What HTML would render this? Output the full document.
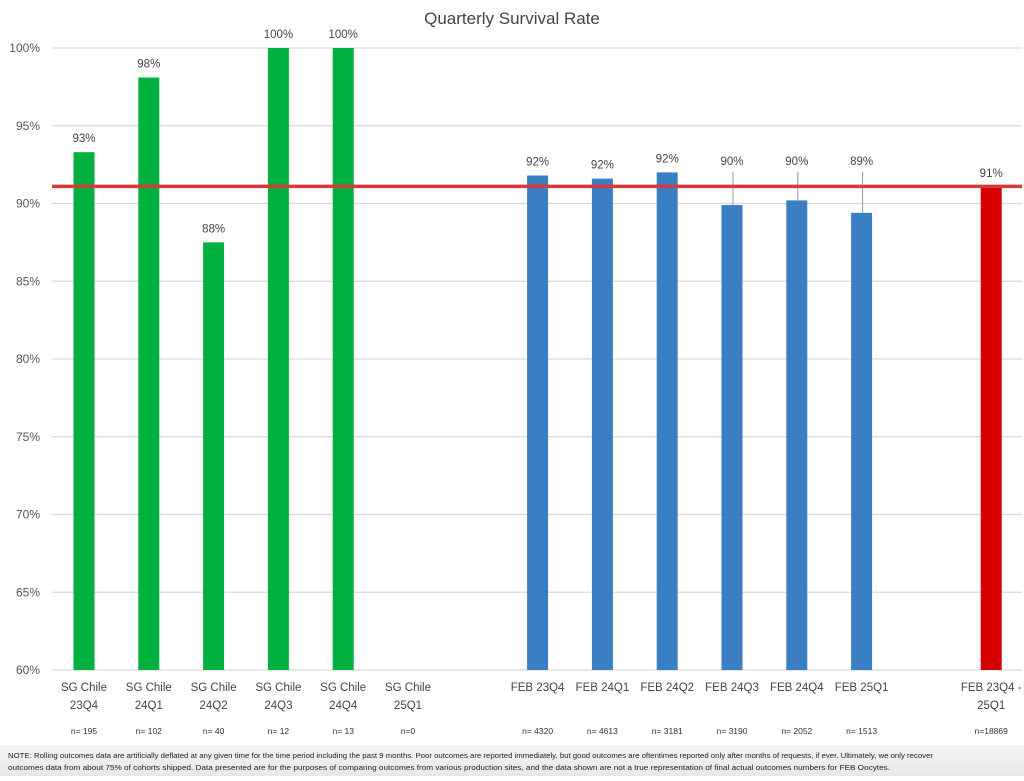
<!DOCTYPE html>
<html><head><meta charset="utf-8"><style>
body{margin:0;background:#fff;font-family:"Liberation Sans",sans-serif}
svg text{font-family:"Liberation Sans",sans-serif}
</style></head><body>
<svg id="chart" width="1024" height="776" xmlns="http://www.w3.org/2000/svg">
<defs><linearGradient id="ng" x1="0" y1="0" x2="0" y2="1"><stop offset="0" stop-color="#f4f4f4"/><stop offset="1" stop-color="#e8e8e8"/></linearGradient></defs>
<rect x="0" y="745" width="1024" height="31" fill="url(#ng)"/>
<text x="512" y="24" text-anchor="middle" font-size="17" fill="#444">Quarterly Survival Rate</text>
<g id="grid"></g><g id="bars"></g><g id="labels"></g>
<text x="8" y="758" font-size="7.4" fill="#222" textLength="925" lengthAdjust="spacingAndGlyphs">NOTE:  Rolling outcomes data are artificially deflated at any given time for the time period including the past 9 months.  Poor outcomes are reported immediately, but good outcomes are oftentimes reported only after months of requests, if ever.  Ultimately, we only recover</text>
<text x="8" y="770" font-size="7.4" fill="#222" textLength="882" lengthAdjust="spacingAndGlyphs">outcomes data from about 75% of cohorts shipped.  Data presented are for the purposes of comparing outcomes from various production sites, and the data shown are not a true representation of final actual outcomes numbers for FEB Oocytes.</text>
</svg>
<script>
const categories=["SG Chile|23Q4","SG Chile|24Q1","SG Chile|24Q2","SG Chile|24Q3","SG Chile|24Q4","SG Chile|25Q1","","FEB 23Q4","FEB 24Q1","FEB 24Q2","FEB 24Q3","FEB 24Q4","FEB 25Q1","","FEB 23Q4 -|25Q1"];
const values=[93.3,98.1,87.5,100,100,null,null,91.8,91.6,92.0,89.9,90.2,89.4,null,91.06];
const valueLabels=["93%","98%","88%","100%","100%","","","92%","92%","92%","90%","90%","89%","","91%"];
const counts=["n= 195","n= 102","n= 40","n= 12","n= 13","n=0","","n= 4320","n= 4613","n= 3181","n= 3190","n= 2052","n= 1513","","n=18869"];
const groups=["sg","sg","sg","sg","sg","sg","","feb","feb","feb","feb","feb","feb","","all"];
const leader=[0,0,0,0,0,0,0,0,0,0,1,1,1,0,0];
const yTicks=[60,65,70,75,80,85,90,95,100];
const average=91.1;
const NS="http://www.w3.org/2000/svg";
const y=v=>670-(v-60)*(622/40);
const x=i=>84+i*64.8;
const colors={sg:"#00b140",feb:"#3a7fc4",all:"#d60000"};
function mk(t,a,p,txt){const e=document.createElementNS(NS,t);for(const k in a)e.setAttribute(k,a[k]);if(txt!==undefined)e.textContent=txt;p.appendChild(e);return e;}
const G=document.getElementById('grid'),B=document.getElementById('bars'),L=document.getElementById('labels');
yTicks.forEach(t=>{
 const ln=mk('line',{x1:52,x2:1022,y1:y(t),y2:y(t),stroke:"#d9d9d9","stroke-width":1.2},G);
 
 
 const tx=mk('text',{x:40,y:y(t)+4,"text-anchor":"end","font-size":12,fill:"#555"},G,t+"%");
 
 
});
categories.forEach((c,i)=>{
 if(!c)return;
 const v=values[i];
 if(v!==null){
  const r=mk('rect',{x:x(i)-10.5,y:y(v),width:21,height:670-y(v),fill:colors[groups[i]]},B);
  
  
  const ly=leader[i]?165:y(v)-10;
  if(leader[i]){const l=mk('line',{x1:x(i)+1,x2:x(i)+1,y1:ly+7,y2:y(v),stroke:"#999","stroke-width":1},L);
   
   }
  const t=mk('text',{x:x(i),y:ly,"text-anchor":"middle","font-size":11.5,fill:"#444"},L,valueLabels[i]);
  
  
 }
 const parts=c.split("|");
 parts.forEach((p,k)=>{const t=mk('text',{x:x(i),y:691+k*18,"text-anchor":"middle","font-size":11.5,fill:"#444"},L,p);
  
  });
 const n=mk('text',{x:x(i),y:734,"text-anchor":"middle","font-size":8.5,fill:"#333"},L,counts[i]);
 
 
});
const av=mk('line',{x1:52,x2:1022,y1:y(average),y2:y(average),stroke:"#d63a3a","stroke-width":3.5},L);


</script>
</body></html>
